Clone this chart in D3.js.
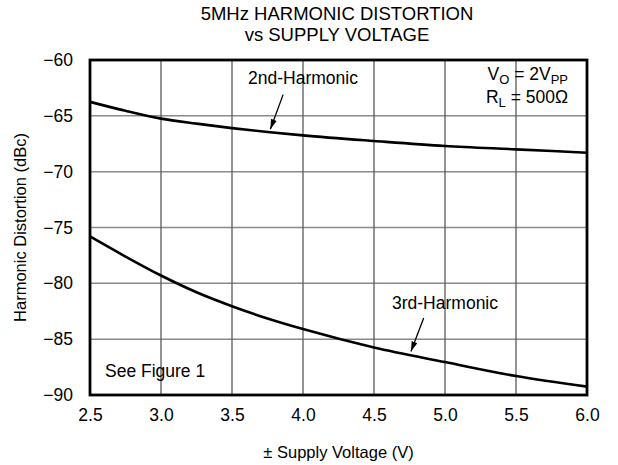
<!DOCTYPE html>
<html>
<head>
<meta charset="utf-8">
<script src="https://cdn.jsdelivr.net/npm/d3@7"></script>
<style>
  body { margin: 0; background: #fff; }
  svg text { font-family: "Liberation Sans", Arial, Helvetica, sans-serif; fill: #000; }
</style>
</head>
<body>
<script>
(function(){

    // supply voltage (V) and distortion values
    var voltage = [2.5, 2.75, 3.0, 3.25, 3.5, 3.75, 4.0, 4.5, 5.0, 5.5, 6.0];
    var second = [-63.75, -64.55, -65.25, -65.7, -66.1, -66.45, -66.75, -67.25, -67.7, -68.0, -68.3];
    var third = [-75.8, -77.6, -79.3, -80.8, -82.05, -83.15, -84.1, -85.75, -87.05, -88.3, -89.25];

    var xTicks = [2.5, 3.0, 3.5, 4.0, 4.5, 5.0, 5.5, 6.0];
    var yTicks = [-60, -65, -70, -75, -80, -85, -90];

    // annotation anchors in data units: label, arrow tail, arrow tip
    var notes = [
        {text: "2nd-Harmonic", label: [4.0, -62.15], tail: [3.86, -63.1], tip: [3.77, -66.2]},
        {text: "3rd-Harmonic", label: [5.0, -82.3], tail: [4.85, -83.1], tip: [4.76, -86.1]}
    ];

    var width = 618, height = 465;
    var margin = {top: 60, right: 31, bottom: 70, left: 90};
    var fs = "17.5px";

    var svg = d3.select("body")
        .append("svg")
        .attr("width", width)
        .attr("height", height);

    var x = d3.scaleLinear()
        .domain([2.5, 6.0])
        .range([margin.left, width - margin.right]);

    var y = d3.scaleLinear()
        .domain([-90, -60])
        .range([height - margin.bottom, margin.top]);

    // title
    svg.append("text")
        .attr("x", 337)
        .attr("y", 20)
        .attr("text-anchor", "middle")
        .style("font-size", "18.5px")
        .text("5MHz HARMONIC DISTORTION");
    svg.append("text")
        .attr("x", 337)
        .attr("y", 41)
        .attr("text-anchor", "middle")
        .style("font-size", "18.5px")
        .text("vs SUPPLY VOLTAGE");

    // grid
    svg.append("g")
        .selectAll("line")
        .data(yTicks.slice(1, -1))
        .enter()
        .append("line")
        .attr("x1", x.range()[0])
        .attr("x2", x.range()[1])
        .attr("y1", d => y(d))
        .attr("y2", d => y(d))
        .style("stroke", "#8a8a8a")
        .style("stroke-width", 1.5);

    svg.append("g")
        .selectAll("line")
        .data(xTicks.slice(1, -1))
        .enter()
        .append("line")
        .attr("x1", d => x(d))
        .attr("x2", d => x(d))
        .attr("y1", y.range()[0])
        .attr("y2", y.range()[1])
        .style("stroke", "#5a5a5a")
        .style("stroke-width", 1.3);

    // axes (labels only, no tick marks)
    var xAxis = svg.append("g")
        .attr("transform", `translate(0, ${height - margin.bottom + 14})`)
        .call(d3.axisBottom(x).tickValues(xTicks).tickFormat(d3.format(".1f")).tickSize(0));
    xAxis.select(".domain").remove();
    xAxis.selectAll("text")
        .style("font-size", fs)
        .attr("y", 0)
        .attr("dy", "0.71em");

    var yAxis = svg.append("g")
        .attr("transform", `translate(${margin.left - 17}, 0)`)
        .call(d3.axisLeft(y).tickValues(yTicks).tickSize(0));
    yAxis.select(".domain").remove();
    yAxis.selectAll("text")
        .style("font-size", fs)
        .attr("x", 0);

    svg.append("text")
        .attr("x", (margin.left + width - margin.right) / 2)
        .attr("y", 458)
        .attr("text-anchor", "middle")
        .style("font-size", "16.5px")
        .text("\u00B1 Supply Voltage (V)");

    svg.append("text")
        .attr("transform", `translate(20, ${(margin.top + height - margin.bottom) / 2}) rotate(-90)`)
        .attr("text-anchor", "middle")
        .attr("dy", "0.35em")
        .style("font-size", "16.5px")
        .text("Harmonic Distortion (dBc)");

    // curves
    var line = d3.line()
        .x((d, i) => x(voltage[i]))
        .y(d => y(d))
        .curve(d3.curveMonotoneX);

    [second, third].forEach(series => {
        svg.append("path")
            .datum(series)
            .attr("d", line)
            .style("fill", "none")
            .style("stroke", "#000")
            .style("stroke-width", 2.6);
    });

    // plot border
    svg.append("rect")
        .attr("x", x.range()[0])
        .attr("y", y.range()[1])
        .attr("width", x.range()[1] - x.range()[0])
        .attr("height", y.range()[0] - y.range()[1])
        .style("fill", "none")
        .style("stroke", "#000")
        .style("stroke-width", 2.8);

    // annotations
    svg.append("defs")
        .append("marker")
        .attr("id", "arrow")
        .attr("viewBox", "0 0 10 10")
        .attr("refX", 10)
        .attr("refY", 5)
        .attr("markerWidth", 10)
        .attr("markerHeight", 10)
        .attr("markerUnits", "userSpaceOnUse")
        .attr("orient", "auto")
        .append("path")
        .attr("d", "M0,2L10,5L0,8Z")
        .style("fill", "#000");

    notes.forEach(n => {
        svg.append("text")
            .attr("x", x(n.label[0]))
            .attr("y", y(n.label[1]))
            .attr("text-anchor", "middle")
            .style("font-size", fs)
            .text(n.text);
        svg.append("line")
            .attr("x1", x(n.tail[0]))
            .attr("y1", y(n.tail[1]))
            .attr("x2", x(n.tip[0]))
            .attr("y2", y(n.tip[1]))
            .attr("marker-end", "url(#arrow)")
            .style("stroke", "#000")
            .style("stroke-width", 1.3);
    });

    // conditions box text
    var cond = svg.append("text")
        .attr("x", 568)
        .attr("y", 80)
        .attr("text-anchor", "end")
        .style("font-size", fs);
    cond.append("tspan").text("V");
    cond.append("tspan").attr("dy", 4).style("font-size", "13px").text("O");
    cond.append("tspan").attr("dy", -4).text(" = 2V");
    cond.append("tspan").attr("dy", 4).style("font-size", "13px").text("PP");

    var cond2 = svg.append("text")
        .attr("x", 568)
        .attr("y", 103)
        .attr("text-anchor", "end")
        .style("font-size", fs);
    cond2.append("tspan").text("R");
    cond2.append("tspan").attr("dy", 4).style("font-size", "13px").text("L");
    cond2.append("tspan").attr("dy", -4).text(" = 500\u03A9");

    svg.append("text")
        .attr("x", 105)
        .attr("y", 377)
        .style("font-size", fs)
        .text("See Figure 1");

})();
</script>
</body>
</html>
